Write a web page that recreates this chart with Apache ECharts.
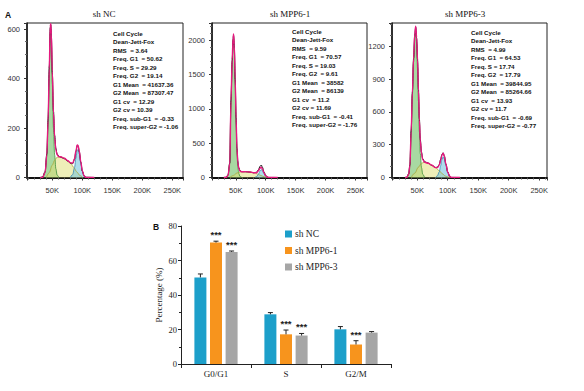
<!DOCTYPE html>
<html><head><meta charset="utf-8">
<script src="https://cdn.jsdelivr.net/npm/echarts@6/dist/echarts.min.js"></script>
<style>html,body{margin:0;padding:0;background:#fff}#c{width:584px;height:391px}</style>
</head><body><div id="c"></div>
<script>
// ---------- Panel A data (x in K units, y = counts) ----------
const ncG1 = [[34,0],[38,20],[41,90],[43,220],[45,420],[46.5,580],[47.5,600],[48.5,540],[50,380],[52,200],[54,90],[56,35],[58,10],[61,0]];
const ncS  = [[40,0],[45,20],[50,50],[54,70],[58,82],[64,84],[70,78],[76,68],[81,56],[86,40],[91,22],[96,8],[101,0]];
const ncG2 = [[80,0],[84,12],[87,40],[89.5,80],[91.5,110],[93,113],[95,95],[97.5,58],[100,25],[103,6],[106,0]];
const ncFit = [[30,0],[34,0],[38,20],[41,93],[43,230],[45,440],[46.5,610],[47.5,622],[48.5,580],[50,430],[52,260],[54,160],[56,111],[58,92],[61,84],[64,84],[70,78],[76,68],[80,60],[84,58],[87,76],[89.5,108],[91.5,132],[93,130],[95,106],[97.5,64],[100,27],[103,6],[106,0],[120,0]];
const ncRaw = [[30,0],[34,2],[38,24],[41,98],[43,236],[45,450],[46.5,605],[47.5,618],[48.5,572],[50,425],[52,268],[54,170],[56,118],[58,95],[61,86],[64,82],[70,76],[76,66],[80,58],[84,56],[87,74],[89.5,106],[91.5,130],[93,128],[95,104],[97.5,62],[100,26],[103,6],[106,1],[120,0]];

const m1G1 = [[34,0],[37,30],[40,200],[42,1100],[44,1680],[45.5,1980],[46.3,2040],[47.5,1880],[49,1380],[50.5,800],[52,350],[53.5,150],[55,60],[57,15],[60,0]];
const m1S  = [[40,0],[46,30],[52,65],[58,82],[66,85],[74,80],[80,70],[86,52],[92,30],[97,12],[102,0]];
const m1G2 = [[82,0],[85,15],[88,50],[90.5,95],[92.5,115],[94.5,100],[97,55],[100,18],[103,4],[105,0]];
const m1Fit = [[30,0],[34,0],[37,30],[40,200],[42,1120],[44,1715],[45.5,2025],[46.3,2090],[47.5,1935],[49,1440],[50.5,862],[52,415],[53.5,220],[55,135],[57,95],[60,83],[66,85],[74,80],[80,70],[85,70],[88,98],[90.5,135],[92.5,150],[94.5,125],[97,68],[100,24],[103,5],[105,0],[120,0]];
const m1Raw = [[30,0],[34,4],[37,36],[40,215],[42,1130],[44,1700],[45.5,2010],[46.3,2070],[47.5,1920],[49,1430],[50.5,870],[52,430],[53.5,235],[55,145],[57,100],[60,85],[66,84],[74,78],[80,68],[85,78],[88,115],[90.5,162],[92.5,182],[94.5,150],[97,82],[100,30],[103,7],[105,1],[120,0]];

const m3G1 = [[33,0],[36,30],[38,110],[40,420],[42,760],[44,1060],[46,1280],[47.5,1330],[49,1220],[50.5,1000],[52,700],[53.5,420],[55,220],[57,90],[59,30],[62,0]];
const m3S  = [[40,0],[46,40],[52,95],[57,130],[62,140],[68,130],[74,112],[80,90],[86,62],[91,35],[96,14],[101,3],[104,0]];
const m3G2 = [[80,0],[83,15],[86,50],[88.5,110],[90.5,165],[92.5,190],[94.5,170],[97,110],[100,45],[103,12],[106,0]];
const m3Fit = [[30,0],[33,0],[36,30],[38,110],[40,420],[42,773],[44,1087],[46,1320],[47.5,1385],[49,1280],[50.5,1075],[52,795],[53.5,525],[55,335],[57,220],[59,164],[62,140],[68,130],[74,112],[80,90],[83,90],[86,112],[88.5,160],[90.5,205],[92.5,222],[94.5,194],[97,122],[100,50],[103,12],[106,0],[120,0]];
const m3Raw = [[30,0],[33,3],[36,35],[38,118],[40,430],[42,780],[44,1090],[46,1315],[47.5,1375],[49,1275],[50.5,1080],[52,805],[53.5,540],[55,350],[57,232],[59,172],[62,145],[68,132],[74,110],[80,92],[83,94],[86,118],[88.5,168],[90.5,212],[92.5,226],[94.5,196],[97,124],[100,52],[103,14],[106,1],[120,0]];

const titlesA = ['sh NC', 'sh MPP6-1', 'sh MPP6-3'];
const statsNC = ['Cell Cycle','Dean-Jett-Fox','RMS  = 3.64','Freq. G1  = 50.62','Freq. S = 29.29','Freq. G2  = 19.14','G1 Mean  = 41637.36','G2 Mean  = 87307.47','G1 cv  = 12.29','G2 cv = 10.39','Freq. sub-G1  = -0.33','Freq. super-G2 = -1.06'];
const statsM1 = ['Cell Cycle','Dean-Jett-Fox','RMS  = 9.59','Freq. G1  = 70.57','Freq. S = 19.03','Freq. G2  = 9.61','G1 Mean  = 38582','G2 Mean  = 86139','G1 cv  = 11.2','G2 cv = 11.69','Freq. sub-G1  = -0.41','Freq. super-G2 = -1.76'];
const statsM3 = ['Cell Cycle','Dean-Jett-Fox','RMS  = 4.99','Freq. G1  = 64.53','Freq. S = 17.74','Freq. G2  = 17.79','G1 Mean  = 39844.95','G2 Mean  = 85264.66','G1 cv  = 13.93','G2 cv = 11.7','Freq. sub-G1  = -0.69','Freq. super-G2 = -0.77'];

// ---------- Panel B data ----------
const barCats = ['G0/G1', 'S', 'G2/M'];
const seriesNames = ['sh NC', 'sh MPP6-1', 'sh MPP6-3'];
const valNC = [50.2, 28.8, 20.1];
const errNC = [2.0, 1.0, 1.6];
const valM1 = [70.4, 17.2, 11.3];
const errM1 = [0.8, 2.5, 2.2];
const valM3 = [65.0, 16.5, 18.2];
const errM3 = [0.5, 1.2, 0.6];
const sigNC = ['', '', ''];
const sigM1 = ['***', '***', '***'];
const sigM3 = ['***', '***', ''];
const yTicksB = [0, 20, 40, 60, 80];

const chart = echarts.init(document.getElementById('c'), null, {renderer: 'svg'});

const panels = [
  {left: 27, width: 156, xmin: 7.9, xmax: 267.7, ymax: 625, yint: 200, ysplit: 4, g1: ncG1, s: ncS, g2: ncG2, fit: ncFit, raw: ncRaw},
  {left: 212, width: 155, xmin: 10.3, xmax: 269.2, ymax: 2250, yint: 500, ysplit: 5, g1: m1G1, s: m1S, g2: m1G2, fit: m1Fit, raw: m1Raw},
  {left: 392, width: 155, xmin: 8.6, xmax: 262.8, ymax: 1414, yint: 300, ysplit: 3, g1: m3G1, s: m3S, g2: m3G2, fit: m3Fit, raw: m3Raw}
];

const grids = [], xAxes = [], yAxes = [], series = [];
const sansLbl = {fontFamily: 'Liberation Sans', fontSize: 7.5, color: '#333'};
panels.forEach((p, i) => {
  grids.push({left: p.left, top: 23, width: p.width, height: 154.5, show: true, borderColor: '#222', borderWidth: 1, backgroundColor: 'transparent'});
  xAxes.push({
    type: 'value', gridIndex: i, min: p.xmin, max: p.xmax, splitNumber: 5,
    axisLine: {show: true, onZero: false, lineStyle: {color: '#111', width: 2}},
    axisTick: {show: true, length: 3, lineStyle: {color: '#333'}},
    minorTick: {show: true, splitNumber: 5, length: 2, lineStyle: {color: '#555'}},
    splitLine: {show: false},
    axisLabel: Object.assign({margin: 9, showMinLabel: false, showMaxLabel: false,
      formatter: v => (Math.abs(v % 50) < 1e-6 ? v + 'K' : '')}, sansLbl)
  });
  yAxes.push({
    type: 'value', gridIndex: i, min: 0, max: p.ymax, interval: p.yint,
    axisLine: {show: true, lineStyle: {color: '#111', width: 1.5}},
    axisTick: {show: true, length: 3, lineStyle: {color: '#333'}},
    minorTick: {show: true, splitNumber: p.ysplit, length: 2, lineStyle: {color: '#666'}},
    splitLine: {show: false},
    axisLabel: Object.assign({margin: 7, showMaxLabel: false, formatter: v => String(v)}, sansLbl)
  });
  const base = {type: 'line', xAxisIndex: i, yAxisIndex: i, symbol: 'none', smooth: 0.35, smoothMonotone: 'x', silent: true, animation: false};
  series.push(Object.assign({}, base, {data: p.g1, lineStyle: {color: '#3f8f3a', width: 0.8}, areaStyle: {color: 'rgba(100,188,90,0.8)'}}));
  series.push(Object.assign({}, base, {data: p.s, lineStyle: {color: '#a9a940', width: 0.8}, areaStyle: {color: 'rgba(222,222,120,0.75)'}}));
  series.push(Object.assign({}, base, {data: p.g2, lineStyle: {color: '#3a86b0', width: 0.8}, areaStyle: {color: 'rgba(110,195,220,0.8)'}}));
  series.push(Object.assign({}, base, {data: p.raw, lineStyle: {color: '#111', width: 1}}));
  series.push(Object.assign({}, base, {data: p.fit, lineStyle: {color: '#e6197f', width: 1.4}}));
});

// Panel B grid
grids.push({left: 181, top: 226, width: 210, height: 138});
xAxes.push({
  type: 'category', gridIndex: 3, data: barCats,
  axisLine: {lineStyle: {color: '#222', width: 1}},
  axisTick: {show: true, length: 4, lineStyle: {color: '#222'}},
  axisLabel: {margin: 5, fontFamily: 'Liberation Serif', fontSize: 9, color: '#222'}
});
yAxes.push({
  type: 'value', gridIndex: 3, min: yTicksB[0], max: yTicksB[yTicksB.length - 1], interval: 20,
  name: 'Percentage (%)', nameLocation: 'middle', nameGap: 18,
  nameTextStyle: {fontFamily: 'Liberation Serif', fontSize: 9, color: '#222'},
  axisLine: {show: true, lineStyle: {color: '#222', width: 1}},
  axisTick: {show: true, length: 3, lineStyle: {color: '#222'}},
  minorTick: {show: true, splitNumber: 2, length: 2, lineStyle: {color: '#222'}},
  splitLine: {show: false},
  axisLabel: {margin: 4, fontFamily: 'Liberation Serif', fontSize: 8.5, color: '#222'}
});
const barColors = ['#1c9fca', '#f7941d', '#a6a6a6'];
const barVals = [valNC, valM1, valM3];
const barErrs = [errNC, errM1, errM3];
const barSigs = [sigNC, sigM1, sigM3];
const BW = 12, STEP = 15.6;
barVals.forEach((vals, k) => {
  series.push({type: 'bar', name: seriesNames[k], xAxisIndex: 3, yAxisIndex: 3, data: vals,
    barWidth: BW, barGap: '30%', itemStyle: {color: barColors[k]}, animation: false});
});
barVals.forEach((vals, k) => {
  const off = (k - 1) * STEP;
  series.push({
    type: 'custom', xAxisIndex: 3, yAxisIndex: 3, z: 5, animation: false, silent: true,
    encode: {x: 0, y: 1},
    data: vals.map((v, i) => [i, v, barErrs[k][i]]),
    renderItem: (params, api) => {
      const i = api.value(0), v = api.value(1), e = api.value(2);
      const sig = barSigs[k][i];
      const top = api.coord([i, v + e]);
      const bot = api.coord([i, v]);
      const x = top[0] + off;
      const children = [
        {type: 'line', shape: {x1: x, y1: bot[1], x2: x, y2: top[1]}, style: {stroke: '#222', lineWidth: 1}},
        {type: 'line', shape: {x1: x - 2.5, y1: top[1], x2: x + 2.5, y2: top[1]}, style: {stroke: '#222', lineWidth: 1}}
      ];
      if (sig) children.push({type: 'text', style: {text: sig, x: x, y: top[1] - 6.5, align: 'center', verticalAlign: 'middle',
        font: 'bold 9.5px "Liberation Sans"', fill: '#222'}});
      return {type: 'group', children: children};
    }
  });
});

const statText = (lines, x, y) => ({type: 'text', left: x, top: y, silent: true,
  style: {text: lines.join('\n'), font: 'bold 6.2px "Liberation Sans"', lineHeight: 8.5, fill: '#111'}});
const graphics = [
  {type: 'text', left: 5, top: 10, style: {text: 'A', font: 'bold 8.5px "Liberation Sans"', fill: '#111'}},
  {type: 'text', left: 153, top: 222, style: {text: 'B', font: 'bold 8.5px "Liberation Sans"', fill: '#111'}},
  statText(statsNC, 113, 29),
  statText(statsM1, 292, 27),
  statText(statsM3, 471, 28)
];
const titleX = [104, 290, 465];
titlesA.forEach((t, i) => graphics.push({type: 'text', x: titleX[i], y: 14, silent: true,
  style: {text: t, font: '9px "Liberation Serif"', fill: '#111', align: 'center', verticalAlign: 'middle'}}));

chart.setOption({
  animation: false,
  grid: grids, xAxis: xAxes, yAxis: yAxes, series: series,
  legend: {data: seriesNames, orient: 'vertical', left: 280, top: 224, itemWidth: 7, itemHeight: 7, itemGap: 6.5,
    icon: 'rect', textStyle: {fontFamily: 'Liberation Serif', fontSize: 9.5, color: '#222', padding: [0, 0, 0, -2]}},
  graphic: graphics
});
</script></body></html>
